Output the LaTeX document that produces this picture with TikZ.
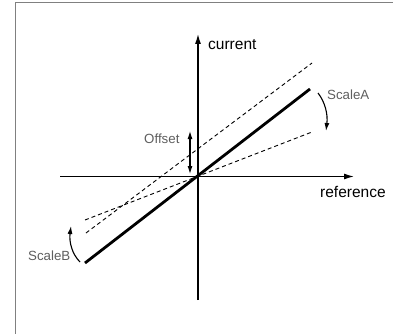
\documentclass[tikz,border=0pt]{standalone}
\usepackage{fontspec}
\setmainfont{Liberation Sans}
\usetikzlibrary{arrows.meta}
\definecolor{lbl}{HTML}{5E5E5E}
\begin{document}
\begin{tikzpicture}[x=1pt,y=-1pt,
  axis/.style={line width=1.2pt,-{Latex[length=10pt,width=6pt]}},
  thickline/.style={line width=2.8pt},
  dashline/.style={line width=0.9pt,dash pattern=on 4pt off 3pt},
  smallarrow/.style={line width=1.1pt,-{Latex[length=8pt,width=5pt]}},
  bigtext/.style={inner sep=0pt,font=\fontsize{15.5}{18}\selectfont},
  graytext/.style={inner sep=0pt,text=lbl,font=\fontsize{13.3}{16}\selectfont}]
\useasboundingbox (0,0) rectangle (393,334);
\draw[gray,line width=1pt] (15.5,334) -- (15.5,2.5) -- (393,2.5);
\coordinate (O) at (198,176.5);
\coordinate (xl) at (60,176.5);
\coordinate (xr) at (354,176.5);
\coordinate (yb) at (198,300);
\coordinate (yt) at (198,34);
\draw[axis] (xl) -- (xr);
\draw[axis] (yb) -- (yt);
\node[bigtext,anchor=west] (cur) at (208,45) {current};
\node[bigtext,anchor=west] (ref) at (320,192) {reference};
\coordinate (A1) at (85,263);
\coordinate (A2) at (310,89);
\draw[thickline] (A1) -- (A2);
\coordinate (B1) at (86,233);
\coordinate (B2) at (312,63);
\draw[dashline] (B1) -- (B2);
\coordinate (C1) at (85,220);
\coordinate (C2) at (312,132);
\draw[dashline] (C1) -- (C2);
\coordinate (D1) at (190,131);
\coordinate (D2) at (190,174);
\draw[line width=1.1pt,{Latex[length=8pt,width=5pt]}-{Latex[length=8pt,width=5pt]}] (D1) -- (D2);
\node[graytext,anchor=west] (off) at (144,139) {Offset};
\coordinate (E1) at (318,93);
\coordinate (E2) at (326,131);
\draw[smallarrow] (E1) .. controls (325,102) and (328,114) .. (E2);
\node[graytext,anchor=west] (sa) at (327,95) {ScaleA};
\coordinate (F1) at (80,262);
\coordinate (F2) at (71,226);
\draw[smallarrow] (F1) .. controls (72,254) and (69,242) .. (F2);
\node[graytext,anchor=west] (sb) at (28,256) {ScaleB};
\end{tikzpicture}
\end{document}
